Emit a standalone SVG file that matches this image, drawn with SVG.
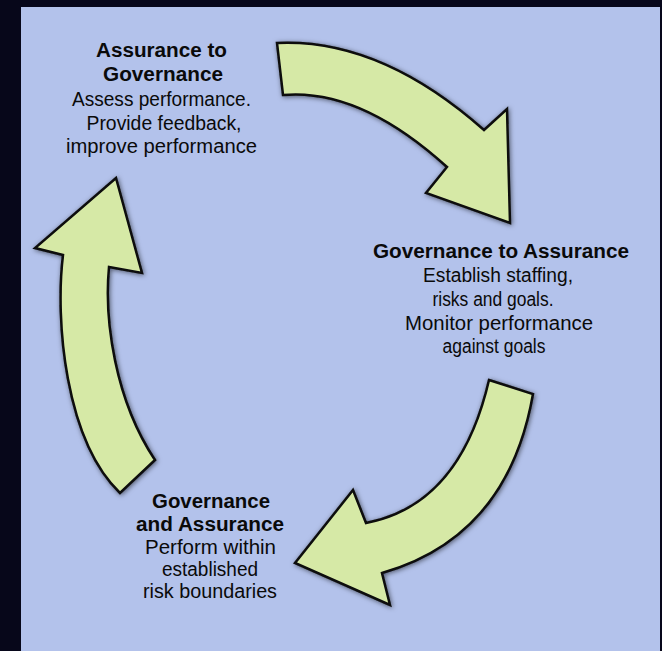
<svg xmlns="http://www.w3.org/2000/svg" width="662" height="651" viewBox="0 0 662 651">
  <defs>
    <filter id="shadow" x="-20%" y="-20%" width="140%" height="140%">
      <feGaussianBlur in="SourceAlpha" stdDeviation="2.5"/>
      <feOffset dx="1" dy="1" result="b"/>
      <feFlood flood-color="#000010" flood-opacity="0.55"/>
      <feComposite in2="b" operator="in"/>
      <feMerge>
        <feMergeNode/>
        <feMergeNode in="SourceGraphic"/>
      </feMerge>
    </filter>
  </defs>
  <style>
    .arrow { fill: #d6e9a6; stroke: #0b0b0b; stroke-width: 2.5; stroke-linejoin: miter; filter: url(#shadow); }
    .t { font-family: "Liberation Sans", Arial, sans-serif; font-size: 20px; fill: #0a0a0a; text-anchor: middle; }
    .b { font-weight: bold; }
  </style>
  <rect x="0" y="0" width="662" height="651" fill="#07071a"/>
  <rect x="21" y="7" width="639" height="644" fill="#b3c2eb"/>

  <g id="connectors">
    <path id="arrow-top" class="arrow" d="M277,43 Q380,38 484,130 L507,109 L510,223 L426,193 L447,167 Q360,88 283,95 Z"/>
    <path id="arrow-bottom" class="arrow" d="M489,380 L533,394 Q508,537 382,573 L390,605 L295,563 L353,490 L366,523 Q460,505 489,380 Z"/>
    <path id="arrow-left" class="arrow" d="M120,493 C65,440 55,320 63,255 L35,248 L116,178 L142,273 L109,267 C104,320 115,400 155,460 Z"/>
  </g>

  <g id="node-assurance-to-governance">
    <text class="t b" x="161.5" y="57" textLength="131" lengthAdjust="spacingAndGlyphs">Assurance to</text>
    <text class="t b" x="163" y="81" textLength="120" lengthAdjust="spacingAndGlyphs">Governance</text>
    <text class="t" x="161.5" y="106" textLength="179" lengthAdjust="spacingAndGlyphs">Assess performance.</text>
    <text class="t" x="164" y="130" textLength="155" lengthAdjust="spacingAndGlyphs">Provide feedback,</text>
    <text class="t" x="161.5" y="153" textLength="191" lengthAdjust="spacingAndGlyphs">improve performance</text>
  </g>

  <g id="node-governance-to-assurance">
    <text class="t b" x="501" y="258" textLength="256" lengthAdjust="spacingAndGlyphs">Governance to Assurance</text>
    <text class="t" x="498" y="282" textLength="150" lengthAdjust="spacingAndGlyphs">Establish staffing,</text>
    <text class="t" x="493" y="306" textLength="121" lengthAdjust="spacingAndGlyphs">risks and goals.</text>
    <text class="t" x="499" y="330" textLength="188" lengthAdjust="spacingAndGlyphs">Monitor performance</text>
    <text class="t" x="494" y="353" textLength="103" lengthAdjust="spacingAndGlyphs">against goals</text>
  </g>

  <g id="node-governance-and-assurance">
    <text class="t b" x="211" y="508" textLength="118" lengthAdjust="spacingAndGlyphs">Governance</text>
    <text class="t b" x="210" y="531" textLength="148" lengthAdjust="spacingAndGlyphs">and Assurance</text>
    <text class="t" x="210.5" y="554" textLength="131" lengthAdjust="spacingAndGlyphs">Perform within</text>
    <text class="t" x="210" y="576" textLength="96" lengthAdjust="spacingAndGlyphs">established</text>
    <text class="t" x="210" y="598" textLength="134" lengthAdjust="spacingAndGlyphs">risk boundaries</text>
  </g>
</svg>
